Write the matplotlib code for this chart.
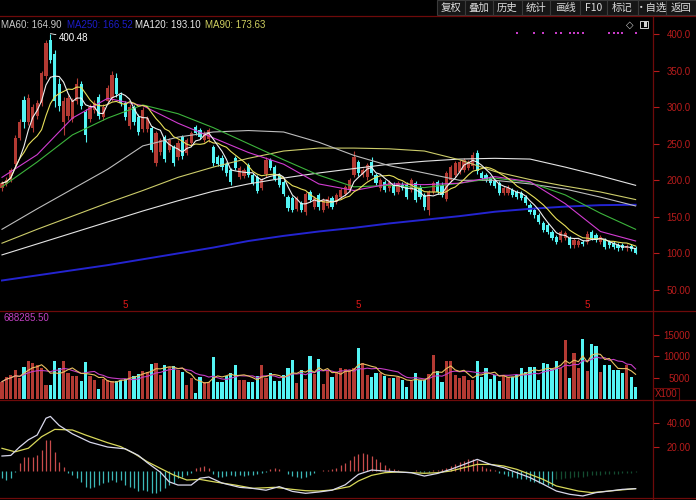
import matplotlib
matplotlib.use("Agg")
import matplotlib.pyplot as plt
from matplotlib.patches import Rectangle
import numpy as np
import pandas as pd

# ---- daily candles (price) ----
opens = [190, 195, 200, 222, 258, 310, 280, 272, 288, 306, 342, 392, 372, 332, 280, 288, 284, 308, 332, 294,
         284, 296, 314, 287, 308, 312, 340, 317, 306, 274, 300, 286, 270, 270, 271, 224, 238, 259, 241, 245,
         232, 259, 237, 251, 273, 269, 255, 256, 245, 232, 231, 222, 214, 230, 205, 206, 221, 207, 204, 190,
         208, 228, 218, 207, 198, 177, 176, 161, 169, 156, 184, 164, 180, 160, 165, 176, 170, 177, 181, 187,
         207, 225, 207, 204, 225, 207, 189, 198, 189, 194, 184, 194, 194, 187, 196, 190, 180, 160, 184, 198,
         194, 175, 200, 207, 211, 214, 217, 219, 237, 210, 207, 203, 199, 196, 183, 183, 187, 184, 183, 177,
         166, 159, 152, 142, 139, 129, 122, 118, 121, 121, 111, 112, 116, 116, 129, 125, 116, 118, 116, 114,
         111, 111, 107, 110, 107]
closes = [196, 200, 214, 258, 280, 280, 312, 300, 305, 346, 388, 365, 308, 302, 308, 312, 308, 332, 302, 262,
          300, 306, 288, 300, 326, 344, 318, 306, 286, 300, 280, 266, 296, 285, 242, 264, 255, 229, 255, 224,
          251, 233, 255, 265, 265, 259, 265, 269, 224, 222, 218, 210, 197, 217, 217, 214, 207, 196, 186, 200,
          228, 217, 202, 194, 181, 162, 160, 176, 160, 181, 173, 176, 164, 173, 175, 164, 180, 187, 191, 200,
          232, 210, 214, 221, 210, 196, 200, 187, 198, 183, 196, 190, 177, 200, 173, 177, 163, 184, 196, 184,
          180, 210, 218, 223, 225, 228, 225, 235, 212, 203, 200, 196, 192, 183, 189, 190, 180, 177, 176, 169,
          157, 152, 143, 132, 129, 121, 116, 129, 128, 111, 118, 117, 113, 127, 121, 118, 122, 109, 111, 109,
          107, 108, 110, 106, 101]
highs = [199, 204, 217, 262, 284, 315, 318, 304, 310, 350, 392, 400.48, 378, 340, 314, 316, 312, 340, 336, 298,
         304, 310, 318, 304, 330, 350, 346, 320, 309, 304, 303, 290, 300, 288, 274, 268, 258, 262, 258, 248,
         255, 262, 258, 268, 276, 272, 268, 272, 248, 235, 234, 225, 217, 233, 220, 217, 224, 210, 207, 203,
         232, 231, 221, 210, 201, 180, 179, 179, 172, 184, 187, 179, 183, 176, 178, 179, 183, 190, 194, 203,
         240, 228, 217, 224, 232, 210, 203, 201, 201, 197, 199, 197, 197, 203, 199, 193, 183, 187, 199, 201,
         197, 213, 221, 226, 228, 231, 228, 238, 241, 213, 210, 206, 202, 199, 192, 193, 190, 187, 186, 180,
         169, 162, 155, 145, 142, 132, 125, 132, 131, 124, 121, 120, 119, 130, 132, 128, 125, 121, 119, 117,
         114, 114, 113, 113, 110]
lows = [186, 192, 198, 218, 255, 272, 276, 266, 284, 302, 338, 360, 300, 295, 262, 282, 280, 304, 298, 252,
        280, 292, 284, 283, 304, 308, 314, 302, 282, 270, 276, 262, 266, 266, 238, 220, 234, 225, 238, 220,
        228, 229, 234, 248, 262, 256, 252, 253, 220, 219, 214, 206, 193, 214, 202, 203, 204, 193, 182, 187,
        205, 214, 199, 191, 178, 158, 157, 158, 156, 152, 170, 161, 160, 157, 162, 161, 167, 174, 178, 184,
        204, 206, 204, 201, 207, 193, 186, 184, 186, 180, 181, 187, 174, 184, 170, 174, 160, 153, 181, 181,
        177, 172, 197, 204, 208, 211, 214, 216, 208, 200, 197, 193, 189, 180, 180, 180, 177, 174, 173, 166,
        154, 149, 140, 129, 126, 118, 113, 115, 118, 108, 108, 109, 110, 113, 118, 115, 113, 106, 108, 106,
        104, 105, 104, 103, 99]

# volume (x100)
volumes = [4030, 5190, 5580, 6750, 4810, 7520, 8840, 8450, 7910, 7130, 3260, 3260, 8840, 7130, 8840, 5970,
           5350, 5350, 4260, 8610, 5350, 4420, 2330, 4570, 4420, 4190, 4190, 4420, 4730, 6590, 5350, 5810,
           6590, 6360, 8060, 8450, 5580, 7830, 7520, 7680, 6750, 6360, 3260, 4810, 1470, 5040, 4030, 4030,
           9690, 4030, 3880, 5350, 5970, 7910, 4420, 4420, 4030, 4030, 5350, 7830, 4810, 6120, 4260, 4260,
           5580, 7130, 9070, 3800, 6750, 4570, 10000, 5810, 9380, 3490, 6750, 5190, 6200, 7130, 6980, 6750,
           7130, 11780, 8300, 5580, 5190, 5970, 6120, 5350, 4810, 4810, 5190, 4420, 2870, 4190, 6120, 4420,
           4420, 5810, 10230, 6510, 4030, 8840, 8840, 5580, 4810, 5350, 4420, 4420, 8840, 5040, 7130, 4650,
           5580, 4190, 5580, 5190, 5190, 5580, 7130, 6360, 7520, 7520, 4420, 8300, 8060, 6900, 8920, 7130,
           13720, 4810, 10620, 7130, 13880, 6510, 12790, 12330, 6360, 7910, 7830, 6750, 6750, 6120, 7910,
           5190, 2710]

# long moving averages, read every 8 sessions
ma_idx = [0, 8, 16, 24, 32, 40, 48, 56, 64, 72, 80, 88, 96, 104, 112, 120, 128, 136, 144]
ma20 = [204, 235, 285, 312, 302, 278, 258, 238, 222, 195, 186, 195, 194, 196, 205, 198, 168, 130, 117]
ma30 = [191, 225, 262, 285, 303, 291, 272, 250, 228, 207, 191, 193, 190, 196, 203, 197, 180, 155, 133]
ma60 = [133, 161, 188, 215, 247, 259, 266, 268, 266, 252, 234, 220, 210, 200, 200, 195, 188, 177, 164.90]
ma90 = [114, 133, 151, 169, 186, 204, 218, 230, 240, 244, 244, 243, 240, 228, 212, 201, 192, 184, 173.63]
ma120 = [98, 113, 128, 143, 158, 172, 185, 195, 203, 210, 216, 222, 226, 229, 230, 229, 218, 206, 193.10]
ma250 = [63, 70, 77, 84, 92, 100, 108, 117, 124, 130, 135, 141, 146, 151, 157, 161, 164, 166, 166.52]

# MACD
dif_idx = [0, 2, 4, 6, 8, 10, 11, 13, 16, 20, 24, 28, 31, 33, 36, 38, 40, 43, 45, 47, 50, 54, 57, 60, 63,
           66, 69, 72, 75, 78, 81, 84, 87, 90, 93, 96, 99, 102, 105, 108, 111, 114, 117, 120, 123, 126, 129,
           132, 135, 138, 141, 144]
dif = [12.5, 13, 20, 26, 30, 44, 45.5, 38, 31, 24, 20, 18.5, 13, 7, -1, -9, -11.7, -11.7, -6, -5, -10,
       -13.6, -14.5, -16, -13, -17, -18.6, -17.5, -16, -11.5, -2.8, 0.8, 0, -0.8, -1.4, -4.2, -2, 1.4, 5.5,
       9.7, 5.5, 2.8, -1.4, -5.5, -11, -16.7, -19.4, -20.8, -18, -16.7, -15.3, -14.7]
dea_idx = [0, 3, 6, 9, 12, 16, 19, 24, 27, 30, 33, 36, 39, 42, 45, 48, 53, 57, 62, 66, 69, 72, 75, 79, 81,
           84, 87, 90, 96, 99, 102, 105, 108, 111, 114, 117, 120, 123, 126, 131, 134, 138, 144]
dea = [18.9, 16, 19, 28.6, 34.7, 34.2, 30, 23.6, 20.3, 14.7, 7.8, 2.2, -3.3, -7.5, -7, -8.9, -11.7, -14.4,
       -13.6, -15.3, -16.4, -16.7, -15.8, -13, -8.3, -3.6, -1.4, -0.8, -1.9, -1.4, 0, 2.8, 5.5, 5.5, 4.2, 1.4,
       -2.8, -7, -12.5, -16.7, -18, -16.7, -14.7]
macd_hist = [-6, -7.5, -6, -1, 6.4, 12, 12, 12, 13.3, 17.5, 25.8, 25.8, 16, 7.8, 3.6, -2, -3.3, -6, -9, -13,
             -14.4, -13, -11.7, -10.3, -9, -7.5, -9, -7.5, -11.7, -13, -14.4, -17, -16, -17, -18.6, -18.6, -17,
             -14.4, -11.7, -10.3, -6, -4.7, -3.3, -2, 2.2, 3.6, 4.2, 2.2, -2.5, -4.7, -5.3, -4.2, -3.3, -4.2,
             -3.3, -4.2, -3.3, -3.3, -2.5, -2, -0.5, 1.7, 2.2, 1.7, 0.3, -2.5, -4.2, -5.3, -6, -4.7, -3.3, -1.4,
             -0.3, 0.8, 0.8, 1.7, 2.8, 5, 6.4, 9, 12.5, 14.4, 14.7, 14.4, 12.5, 10.3, 7.5, 5.3, 2.8, 1.4, 0.5,
             0.3, -0.3, 0.3, 0.5, -0.5, -1.0, -0.5, 0.5, 1.0, 1.4, 2.8, 4.2, 5.5, 7.5, 8.3, 9.7, 9.7, 8.9, 4.2,
             2.8, 1.9, 0.8, -1.4, -2.8, -4.2, -5, -5.8, -6.4, -7, -8.3, -9.2, -10, -10.6, -11.4, -12.2, -7,
             -6.4, -5.8, -5.5, -5.3, -5, -4.7, -4.2, -3.6, -3.3, -3, -2.8, -2.5, -2.5, -2.2, -2, -1.7, -1.4,
             -1.2]

event_idx = [117, 121, 123, 126, 127, 129, 130, 131, 132, 138, 139, 140, 141, 144]
month_idx = [28, 81, 133]

price_ticks = [50, 100, 150, 200, 250, 300, 350, 400]
price_labels = ["50.00", "100.0", "150.0", "200.0", "250.0", "300.0", "350.0", "400.0"]
vol_ticks = [5000, 10000, 15000]
macd_ticks = [20, 40]
toolbar = ["复权", "叠加", "历史", "统计", "画线", "F10", "标记", "·自选", "返回"]
toolbar_edges = [437, 465, 493, 522, 550, 580, 607, 638, 666, 696]

UP = "#b33a33"
DOWN = "#54f4f4"
AXRED = "#b81c1c"
GRID = "#6e0a0a"
W, H = 696, 500

plt.rcParams["font.family"] = ["Liberation Sans", "DejaVu Sans"]

fig = plt.figure(figsize=(W / 100, H / 100), dpi=100, facecolor="black")


def rect(top, bottom, left=0, right=653):
    return [left / W, 1 - bottom / H, (right - left) / W, (bottom - top) / H]


ax = fig.add_axes(rect(17, 311))
axv = fig.add_axes(rect(311, 400))
axm = fig.add_axes(rect(400, 498))

n = len(closes)
x = np.arange(n)
o = np.array(opens, dtype=float)
c = np.array(closes, dtype=float)
colors = [UP if cc >= oo else DOWN for oo, cc in zip(o, c)]

for a in (ax, axv, axm):
    a.set_facecolor("none")
    a.set_xlim(-0.45, 147.95)
    for s in a.spines.values():
        s.set_visible(False)
    a.set_xticks([])
    a.yaxis.tick_right()
    a.tick_params(axis="y", colors=AXRED, length=4, width=0.8, direction="out",
                  pad=23, labelsize=7)

# ---- price panel ----
ax.set_ylim(21.3, 423.2)
ax.vlines(x, lows, highs, colors=colors, lw=0.8, zorder=2)
ax.bar(x, np.maximum(np.abs(c - o), 0.8), bottom=np.minimum(o, c), width=0.76,
       color=colors, linewidth=0, zorder=3)

ma5 = pd.Series(closes).rolling(5, min_periods=1).mean()
ma10 = pd.Series(closes).rolling(10, min_periods=1).mean()
ax.plot(ma_idx, ma250, color="#2424d0", lw=1.4, zorder=4)
ax.plot(ma_idx, ma120, color="#e4e4e4", lw=0.8, zorder=4)
ax.plot(ma_idx, ma90, color="#cccc6a", lw=0.8, zorder=4)
ax.plot(ma_idx, ma60, color="#bdbdbd", lw=0.8, zorder=4)
ax.plot(ma_idx, ma30, color="#3cb43c", lw=0.8, zorder=4)
ax.plot(ma_idx, ma20, color="#d23cd2", lw=0.8, zorder=4)
ax.plot(x, ma10, color="#e8e05a", lw=0.8, zorder=5)
ax.plot(x, ma5, color="#f0f0f0", lw=0.8, zorder=5)

ax.set_yticks(price_ticks)
ax.set_yticklabels(price_labels)
for lab in ax.get_yticklabels():
    lab.set_horizontalalignment("right")

imax = int(np.argmax(highs))
ax.annotate(f"{highs[imax]:.2f}", xy=(imax, highs[imax]), xytext=(6, -3),
            textcoords="offset points", color="white", fontsize=7, ha="left", va="center",
            arrowprops=dict(arrowstyle="-", color="white", lw=0.6, shrinkA=0, shrinkB=0))

xt = ax.get_xaxis_transform()
ax.scatter(event_idx, [0.946] * len(event_idx), transform=xt, s=2, marker="s",
           color="#c83cc8", linewidths=0)
for m in month_idx:
    ax.text(m, 0.02, "5", transform=xt, color="#e01818", fontsize=7, ha="center", va="center")

# ---- volume panel ----
axv.set_ylim(-233, 20470)
axv.bar(x, volumes, width=0.72, color=colors, linewidth=0)
vma5 = pd.Series(volumes).rolling(5, min_periods=1).mean()
vma10 = pd.Series(volumes).rolling(10, min_periods=1).mean()
axv.plot(x, vma10, color="#c43cc4", lw=0.8)
axv.plot(x, vma5, color="#e8c060", lw=0.8)
axv.set_yticks(vol_ticks)
axv.set_yticklabels([str(v) for v in vol_ticks])
for lab in axv.get_yticklabels():
    lab.set_horizontalalignment("right")

# ---- MACD panel ----
axm.set_ylim(-22.5, 59.2)
hist_colors = []
for i, v in enumerate(macd_hist):
    if v >= 0:
        hist_colors.append("#c84c4c")
    elif i < 126:
        hist_colors.append("#3cb8b8")
    else:
        hist_colors.append("#144c30")
axm.vlines(x, 0, macd_hist, colors=hist_colors, lw=0.9)
axm.plot(dea_idx, dea, color="#d8d85a", lw=0.9)
axm.plot(dif_idx, dif, color="#d8d8ec", lw=0.9)
axm.set_yticks(macd_ticks)
axm.set_yticklabels([f"{v:.2f}" for v in macd_ticks])
for lab in axm.get_yticklabels():
    lab.set_horizontalalignment("right")

# ---- frame, toolbar, legends (pixel coordinates) ----
ov = fig.add_axes([0, 0, 1, 1])
ov.set_facecolor("none")
ov.set_xlim(0, W)
ov.set_ylim(H, 0)
ov.axis("off")

for yy in (16, 311, 400, 498):
    ov.plot([0, W], [yy, yy], color=GRID, lw=0.9)
ov.plot([653, 653], [16, H], color=GRID, lw=0.9)

for k, lab in enumerate(toolbar):
    x0, x1 = toolbar_edges[k], toolbar_edges[k + 1]
    ov.add_patch(Rectangle((x0, 0), x1 - x0, 15, facecolor="#161616", edgecolor="#3a3a3a", lw=0.8))
    ov.text((x0 + x1) / 2, 8, lab, color="#dcdcdc", fontsize=7.5, ha="center", va="center",
            family=["Noto Sans CJK SC", "DejaVu Sans"])

legend = [("MA60", ma60[-1], "#c8c8c8", 1), ("MA250", ma250[-1], "#1c1cc8", 67),
          ("MA120", ma120[-1], "#e8e8e8", 135), ("MA90", ma90[-1], "#d0d060", 205)]
for name, val, col, xx in legend:
    ov.text(xx, 25, f"{name}: {val:.2f}", color=col, fontsize=7, ha="left", va="center")

ov.text(630, 25, "◇", color="#d0d0d0", fontsize=7, ha="center", va="center", family="DejaVu Sans")
ov.add_patch(Rectangle((640, 21), 8, 7, facecolor="none", edgecolor="#d0d0d0", lw=0.7))
ov.add_patch(Rectangle((644, 22), 3, 5, facecolor="#d0d0d0", edgecolor="none"))

ov.text(4, 318, "688285.50", color="#c040c0", fontsize=7, ha="left", va="center")
ov.text(666, 394, "X100", color=AXRED, fontsize=7, ha="center", va="center",
        bbox=dict(boxstyle="square,pad=0.15", facecolor="none", edgecolor=GRID, lw=0.8))

fig.savefig("out.png", dpi=100, facecolor="black")
